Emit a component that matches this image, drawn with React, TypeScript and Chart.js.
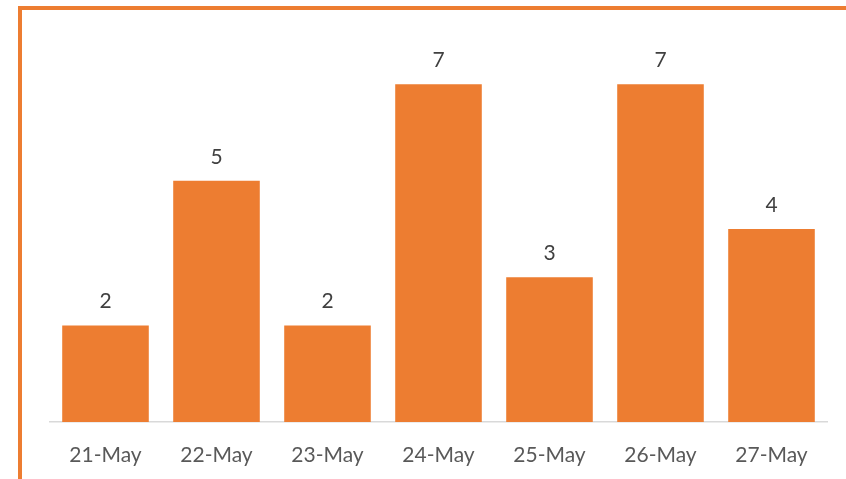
import React, { useEffect, useRef } from "react";
import { Chart, registerables } from "chart.js";

Chart.register(...registerables);

const categories = ["21-May", "22-May", "23-May", "24-May", "25-May", "26-May", "27-May"];
const counts = [2, 5, 2, 7, 3, 7, 4];

const ORANGE = "#ED7D31";
const FONT = "Lato, 'Open Sans', sans-serif";

const framePlugin = {
  id: "frame",
  afterDraw(chart: any) {
    const ctx = chart.ctx;
    ctx.save();
    ctx.strokeStyle = ORANGE;
    ctx.lineWidth = 4;
    ctx.beginPath();
    ctx.moveTo(20, chart.height);
    ctx.lineTo(20, 8);
    ctx.lineTo(chart.width, 8);
    ctx.stroke();
    ctx.restore();
  },
};

const labelPlugin = {
  id: "valueLabels",
  afterDatasetsDraw(chart: any) {
    const ctx = chart.ctx;
    const meta = chart.getDatasetMeta(0);
    ctx.save();
    ctx.fillStyle = "#404040";
    ctx.font = `21px ${FONT}`;
    ctx.textAlign = "center";
    ctx.textBaseline = "middle";
    meta.data.forEach((bar: any, i: number) => {
      ctx.fillText(String(counts[i]), bar.x, bar.y - 24);
    });
    ctx.restore();
  },
};

export default function App() {
  const ref = useRef<HTMLCanvasElement>(null);
  useEffect(() => {
    document.body.style.margin = "0";
    const chart = new Chart(ref.current!, {
      type: "bar",
      data: {
        labels: categories,
        datasets: [
          {
            data: counts,
            backgroundColor: ORANGE,
            barPercentage: 0.78,
            categoryPercentage: 1,
          },
        ],
      },
      options: {
        animation: false,
        responsive: false,
        layout: { padding: { left: 50, right: 19, top: 36, bottom: 0 } },
        plugins: { legend: { display: false }, tooltip: { enabled: false } },
        scales: {
          x: {
            grid: { display: false, drawTicks: false },
            border: { display: true, color: "#D9D9D9", width: 1.5 },
            ticks: { color: "#595959", font: { size: 21, family: FONT }, padding: 21, maxRotation: 0 },
            afterFit(scale: any) {
              scale.height = 57;
            },
          },
          y: {
            display: false,
            min: 0,
            max: 8,
          },
        },
      },
      plugins: [framePlugin, labelPlugin],
    });
    return () => chart.destroy();
  }, []);
  return <canvas ref={ref} width={846} height={479} style={{ display: "block" }} />;
}
